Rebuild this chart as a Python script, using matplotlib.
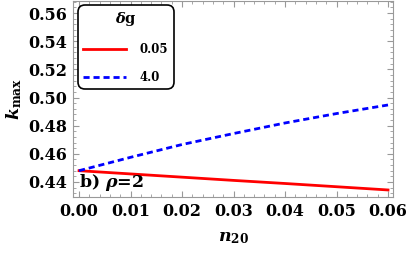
import matplotlib
matplotlib.use("Agg")
import matplotlib.pyplot as plt
from matplotlib.ticker import MultipleLocator, FormatStrFormatter

plt.rcParams['mathtext.fontset'] = 'custom'
plt.rcParams['mathtext.rm'] = 'DejaVu Serif:bold'
plt.rcParams['mathtext.it'] = 'DejaVu Serif:italic:bold'
plt.rcParams['mathtext.bf'] = 'DejaVu Serif:bold'
plt.rcParams['font.family'] = ['DejaVu Serif']
plt.rcParams['font.weight'] = 'bold'

n20 = [0.00, 0.01, 0.02, 0.03, 0.04, 0.05, 0.06]
k_dg005 = [0.4480, 0.4457, 0.4434, 0.4411, 0.4389, 0.4366, 0.4343]
k_dg40 = [0.4480, 0.4575, 0.4666, 0.4744, 0.4819, 0.4886, 0.4947]
labels = ['0.05', '4.0']

fig = plt.figure(figsize=(4.07, 2.58), dpi=100)
ax = fig.add_axes([73/407, 1-197/258, 320/407, 196/258])

ax.plot(n20, k_dg005, color='#ff0000', lw=2.0, label=labels[0])
ax.plot(n20, k_dg40, color='#0000ff', lw=2.0, ls=(0, (2.2, 1.4)), label=labels[1])

ax.set_xlim(-0.00117, 0.06097)
ax.set_ylim(0.4293, 0.5686)
ax.xaxis.set_major_locator(MultipleLocator(0.01))
ax.xaxis.set_minor_locator(MultipleLocator(0.002))
ax.yaxis.set_major_locator(MultipleLocator(0.02))
ax.yaxis.set_minor_locator(MultipleLocator(0.004))
ax.tick_params(which='both', direction='in', top=True, right=True, color='#999999')
ax.tick_params(which='major', length=4, width=0.8, labelsize=11.5, pad=4)
ax.tick_params(which='minor', length=2.5, width=0.6)
ax.xaxis.set_major_formatter(FormatStrFormatter('%.2f'))
ax.yaxis.set_major_formatter(FormatStrFormatter('%.2f'))
for lab in ax.get_xticklabels() + ax.get_yticklabels():
    lab.set_fontweight('bold')
for s in ax.spines.values():
    s.set_color('#999999')
    s.set_linewidth(0.8)

ax.set_xlabel(r'$n_{20}$', fontsize=12.5, labelpad=7)
ax.set_ylabel(r'$k_{\mathrm{max}}$', fontsize=12.5, labelpad=3)

ax.text(0.018, 0.02, r'b) $\rho$=2', transform=ax.transAxes, fontsize=12.5,
        fontweight='bold', ha='left', va='bottom')

leg = ax.legend(title=r'$\delta$g', loc='upper left', bbox_to_anchor=(0.015, 0.98),
                fontsize=8.5, title_fontsize=10.5, frameon=True, fancybox=True,
                edgecolor='black', handlelength=3.6, handletextpad=1.2,
                labelspacing=1.25, borderpad=0.45, borderaxespad=0)
leg.get_frame().set_linewidth(1.2)
leg.get_frame().set_alpha(1)
leg.get_frame().set_boxstyle('round', pad=0, rounding_size=0.6)
for t in leg.get_texts():
    t.set_fontweight('bold')

fig.savefig('out.png', dpi=100)
